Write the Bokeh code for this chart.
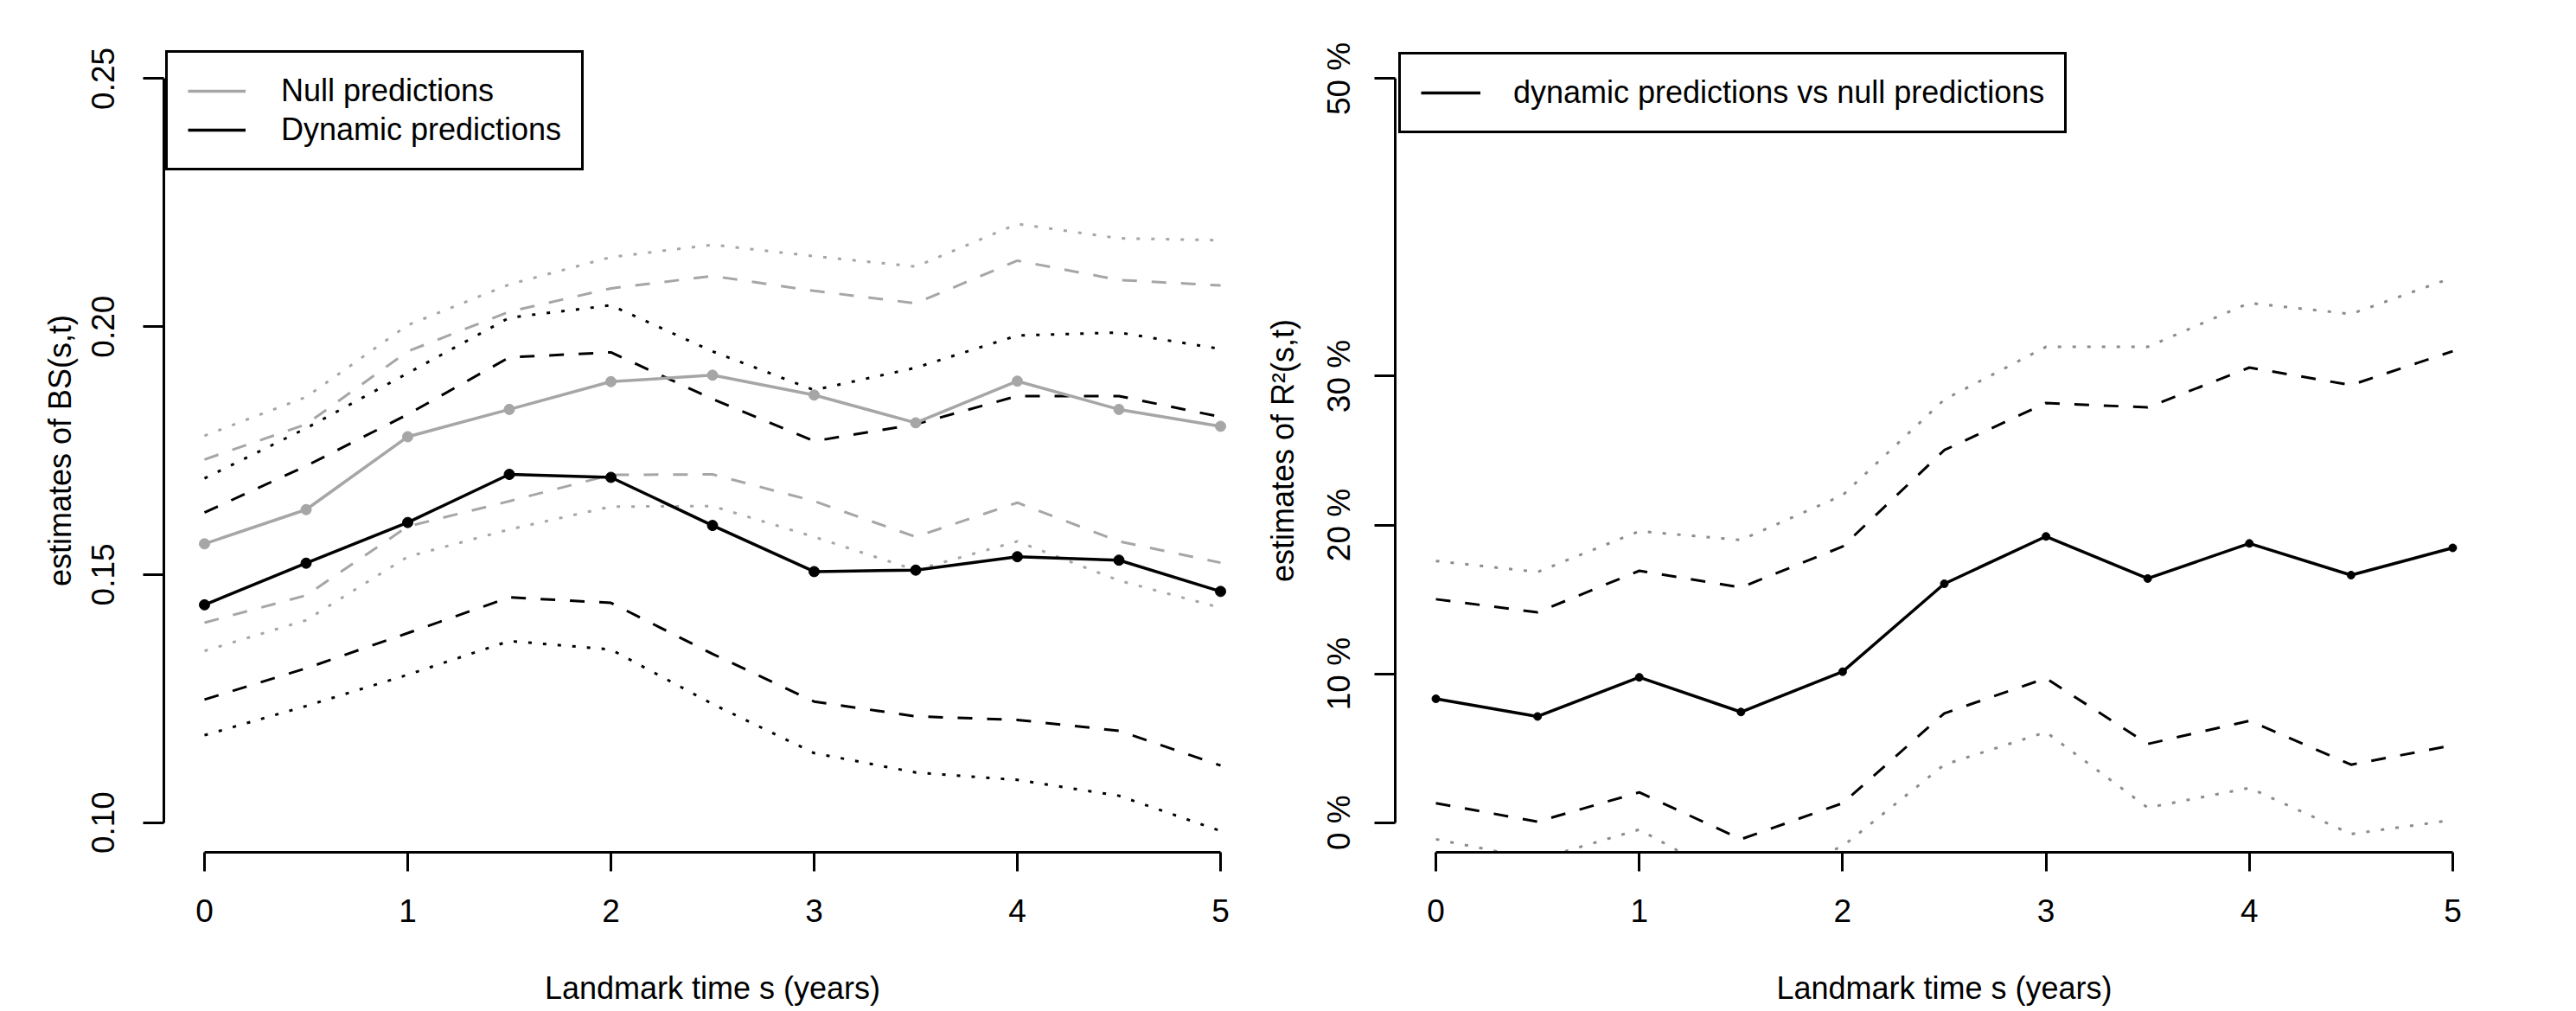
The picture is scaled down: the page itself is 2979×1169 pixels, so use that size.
from bokeh.plotting import figure
from bokeh.models import Range1d, FixedTicker, PrintfTickFormatter, Legend, LegendItem
from bokeh.layouts import row
from bokeh.embed import file_html
from bokeh.resources import INLINE

# ---------------- data ----------------
landmark = [0, 0.5, 1, 1.5, 2, 2.5, 3, 3.5, 4, 4.5, 5]

# Brier score estimates (left panel)
null_est = [0.1562, 0.1631, 0.1778, 0.1833, 0.1889, 0.1902, 0.1862, 0.1806, 0.1890, 0.1833, 0.1799]
null_ci_up = [0.1732, 0.1803, 0.1950, 0.2030, 0.2077, 0.2102, 0.2072, 0.2047, 0.2133, 0.2094, 0.2083]
null_ci_lo = [0.1403, 0.1458, 0.1597, 0.1648, 0.1701, 0.1702, 0.1648, 0.1576, 0.1645, 0.1567, 0.1524]
null_band_up = [0.1780, 0.1858, 0.2003, 0.2085, 0.2140, 0.2165, 0.2142, 0.2121, 0.2207, 0.2178, 0.2174]
null_band_lo = [0.1346, 0.1408, 0.1536, 0.1591, 0.1637, 0.1638, 0.1576, 0.1509, 0.1567, 0.1488, 0.1433]

dyn_est = [0.1439, 0.1523, 0.1605, 0.1702, 0.1696, 0.1599, 0.1506, 0.1509, 0.1536, 0.1529, 0.1466]
dyn_ci_up = [0.1625, 0.1719, 0.1823, 0.1938, 0.1948, 0.1854, 0.1769, 0.1803, 0.1860, 0.1860, 0.1818]
dyn_ci_lo = [0.1248, 0.1311, 0.1382, 0.1454, 0.1443, 0.1340, 0.1244, 0.1214, 0.1207, 0.1185, 0.1115]
dyn_band_up = [0.1694, 0.1795, 0.1906, 0.2018, 0.2043, 0.1950, 0.1872, 0.1917, 0.1982, 0.1988, 0.1955]
dyn_band_lo = [0.1176, 0.1235, 0.1298, 0.1366, 0.1349, 0.1239, 0.1140, 0.1101, 0.1086, 0.1054, 0.0983]

# R2 estimates in percent (right panel)
r2_est = [8.32, 7.13, 9.76, 7.43, 10.14, 16.05, 19.23, 16.40, 18.76, 16.63, 18.46]
r2_ci_up = [15.01, 14.13, 16.92, 15.80, 18.55, 25.03, 28.20, 27.90, 30.58, 29.40, 31.68]
r2_ci_lo = [1.30, 0.06, 2.03, -1.12, 1.30, 7.34, 9.70, 5.28, 6.84, 3.89, 5.19]
r2_band_up = [17.58, 16.84, 19.58, 18.99, 22.00, 28.43, 31.97, 31.97, 34.92, 34.18, 36.63]
r2_band_lo = [-1.12, -2.48, -0.47, -4.22, -1.60, 3.89, 6.08, 1.00, 2.33, -0.77, 0.17]

x_ticks = [0, 1, 2, 3, 4, 5]
bs_ticks = [0.10, 0.15, 0.20, 0.25]
r2_ticks = [0, 10, 20, 30, 50]

x_title = "Landmark time s (years)"
bs_title = "estimates of BS(s,t)"
r2_title = "estimates of R\u00b2(s,t)"
legend_left = ["Null predictions", "Dynamic predictions"]
legend_right = ["dynamic predictions vs null predictions"]

# ---------------- style ----------------
FONT = "Liberation Sans"
GRAY = "#A6A6A6"
DOTGRAY = "#8C8C8C"
BLACK = "#000000"
DASH = "17 17"
DOT = "4 13"


def style_axis(ax, standoff, title_standoff, tick_out):
    ax.axis_line_width = 3
    ax.axis_line_color = BLACK
    ax.major_tick_line_width = 3
    ax.major_tick_line_color = BLACK
    ax.major_tick_in = 0
    ax.major_tick_out = tick_out
    ax.minor_tick_line_color = None
    ax.major_label_text_font = FONT
    ax.major_label_text_font_size = "37px"
    ax.major_label_text_color = BLACK
    ax.major_label_standoff = standoff
    ax.axis_label_text_font = FONT
    ax.axis_label_text_font_size = "36px"
    ax.axis_label_text_font_style = "normal"
    ax.axis_label_text_color = BLACK
    ax.axis_label_standoff = title_standoff


def base_fig(width, mbl, mbr, mbt, mbb, yr):
    p = figure(width=width, height=1169, output_backend="svg", toolbar_location=None,
               x_range=Range1d(-0.2, 5.2), y_range=yr,
               min_border_left=mbl, min_border_right=mbr,
               min_border_top=mbt, min_border_bottom=mbb)
    p.outline_line_color = None
    p.xgrid.visible = False
    p.ygrid.visible = False
    p.background_fill_color = "white"
    p.border_fill_color = "white"
    return p


def make_legend(items, margin, glyph_width, standoff):
    return Legend(items=items, location="top_left", margin=margin, padding=23, spacing=3,
                  label_height=36, glyph_height=36, glyph_width=glyph_width,
                  label_standoff=standoff,
                  border_line_color=BLACK, border_line_width=3, border_line_alpha=1.0,
                  label_text_font=FONT, label_text_font_size="36px",
                  label_text_color=BLACK,
                  background_fill_color="white", background_fill_alpha=1)


# ---------------- left panel ----------------
p1 = base_fig(1458, 189, 0, 56, 179, Range1d(0.094, 0.256))

p1.line(landmark, null_band_up, line_color=GRAY, line_width=3, line_dash=DOT)
p1.line(landmark, null_band_lo, line_color=GRAY, line_width=3, line_dash=DOT)
p1.line(landmark, null_ci_up, line_color=GRAY, line_width=3, line_dash=DASH)
p1.line(landmark, null_ci_lo, line_color=GRAY, line_width=3, line_dash=DASH)
p1.line(landmark, dyn_band_up, line_color=BLACK, line_width=3, line_dash=DOT)
p1.line(landmark, dyn_band_lo, line_color=BLACK, line_width=3, line_dash=DOT)
p1.line(landmark, dyn_ci_up, line_color=BLACK, line_width=3, line_dash=DASH)
p1.line(landmark, dyn_ci_lo, line_color=BLACK, line_width=3, line_dash=DASH)
l_null = p1.line(landmark, null_est, line_color=GRAY, line_width=3.5)
p1.scatter(landmark, null_est, size=12, color=GRAY)
l_dyn = p1.line(landmark, dyn_est, line_color=BLACK, line_width=3.5)
p1.scatter(landmark, dyn_est, size=12, color=BLACK)

p1.xaxis.ticker = FixedTicker(ticks=x_ticks)
p1.xaxis.bounds = (0, 5)
p1.xaxis.axis_label = x_title
p1.yaxis.ticker = FixedTicker(ticks=bs_ticks)
p1.yaxis.formatter = PrintfTickFormatter(format="%.2f")
p1.yaxis.bounds = (0.10, 0.25)
p1.yaxis.major_label_orientation = "vertical"
p1.yaxis.axis_label = bs_title
style_axis(p1.xaxis[0], 32, 53, 22)
style_axis(p1.yaxis[0], 33, 14, 24)

p1.add_layout(make_legend([LegendItem(label=legend_left[0], renderers=[l_null]),
                           LegendItem(label=legend_left[1], renderers=[l_dyn])],
                          2, 67, 41))

# ---------------- right panel ----------------
p2 = base_fig(1521, 155, 96, 51, 184, Range1d(-2, 52))

p2.line(landmark, r2_band_up, line_color=DOTGRAY, line_width=3, line_dash=DOT)
p2.line(landmark, r2_band_lo, line_color=DOTGRAY, line_width=3, line_dash=DOT)
p2.line(landmark, r2_ci_up, line_color=BLACK, line_width=3, line_dash=DASH)
p2.line(landmark, r2_ci_lo, line_color=BLACK, line_width=3, line_dash=DASH)
l_r2 = p2.line(landmark, r2_est, line_color=BLACK, line_width=3.5)
p2.scatter(landmark, r2_est, size=9, color=BLACK)

p2.xaxis.ticker = FixedTicker(ticks=x_ticks)
p2.xaxis.bounds = (0, 5)
p2.xaxis.axis_label = x_title
p2.yaxis.ticker = FixedTicker(ticks=r2_ticks)
p2.yaxis.formatter = PrintfTickFormatter(format="%d %%")
p2.yaxis.bounds = (0, 50)
p2.yaxis.major_label_orientation = "vertical"
p2.yaxis.axis_label = r2_title
style_axis(p2.xaxis[0], 32, 53, 22)
style_axis(p2.yaxis[0], 20, 22, 24)

p2.add_layout(make_legend([LegendItem(label=legend_right[0], renderers=[l_r2])],
                          4, 69, 38))

layout = row(p1, p2)
open("out.html", "w").write(file_html(layout, INLINE))
